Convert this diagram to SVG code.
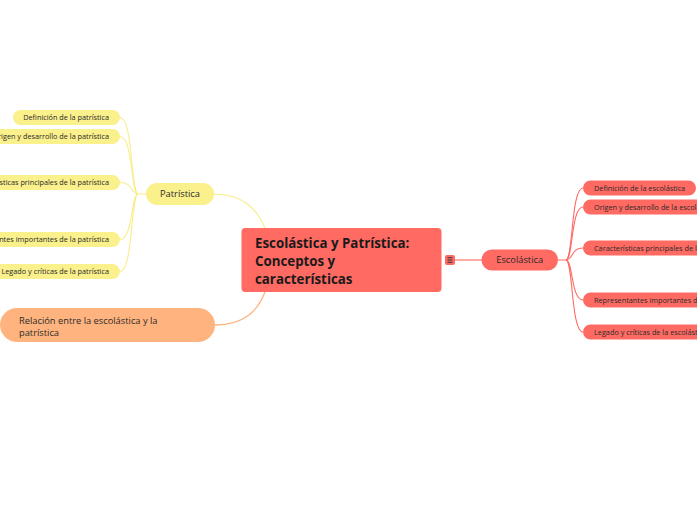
<svg xmlns="http://www.w3.org/2000/svg" width="697" height="520" viewBox="0 0 697 520">
<style>
text{font-family:"Open Sans","Noto Sans","Liberation Sans",sans-serif;fill:#2a2a2a}
.red{fill:#ff6a63}
.yel{fill:#faf08c}
.org{fill:#ffb47f}
.sm{font-size:7.3px}
.md{font-size:9.3px}
.lg{font-size:13.3px;font-weight:bold;fill:#1a1a1a}
.cr{fill:none;stroke:#ff6a63;stroke-width:1.1}
.cy{fill:none;stroke:#f8ee8a;stroke-width:1.1}
.co{fill:none;stroke:#ffb47f;stroke-width:1.3}
</style>
<rect width="697" height="520" fill="#ffffff"/>
<g id="connectors">
<path class="cr" d="M455,260 H482"/>
<path class="cr" d="M558,260 H566 C573,260 571,188 583,188"/>
<path class="cr" d="M566,260 C573,260 571,207 583,207"/>
<path class="cr" d="M566,260 C573,260 571,248 583,248"/>
<path class="cr" d="M566,260 C573,260 571,300 583,300"/>
<path class="cr" d="M566,260 C573,260 571,332 583,332"/>
<path class="cy" d="M214,194 C244,194 257,210 265,228"/>
<path class="cy" d="M146,194 H138 C131,194 133,117.5 120,117.5"/>
<path class="cy" d="M138,194 C131,194 133,136.5 120,136.5"/>
<path class="cy" d="M138,194 C131,194 133,182.5 120,182.5"/>
<path class="cy" d="M138,194 C131,194 133,239.5 120,239.5"/>
<path class="cy" d="M138,194 C131,194 133,271.5 120,271.5"/>
<path class="co" d="M215,325 C245,325 258,310 265,292"/>
</g>
<g id="central">
<rect class="red" x="241.5" y="228" width="200" height="64" rx="4"/>
<text class="lg" x="255" y="248">Escolástica y Patrística:</text>
<text class="lg" x="255" y="266">Conceptos y</text>
<text class="lg" x="255" y="284">características</text>
</g>
<g id="collapse">
<rect class="red" x="445" y="255" width="10" height="10" rx="2"/>
<path d="M447.5,257.7 H452.5 M447.5,260 H452.5 M447.5,262.3 H452.5" stroke="#333" stroke-width="1"/>
</g>
<g id="escolastica">
<rect class="red" x="481.5" y="249.5" width="76.5" height="21" rx="10.5"/>
<text class="md" x="519.7" y="263.3" text-anchor="middle">Escolástica</text>
</g>
<g id="esc-def">
<rect class="red" x="583" y="180.5" width="113" height="15" rx="7.5"/>
<text class="sm" x="594" y="190.6">Definición de la escolástica</text>
</g>
<g id="esc-origen">
<rect class="red" x="583" y="199.5" width="130" height="15" rx="7.5"/>
<text class="sm" x="594" y="209.6">Origen y desarrollo de la escolástica</text>
</g>
<g id="esc-carac">
<rect class="red" x="583" y="240.5" width="160" height="15" rx="7.5"/>
<text class="sm" x="594" y="250.6">Características principales de la escolástica</text>
</g>
<g id="esc-repr">
<rect class="red" x="583" y="292.5" width="160" height="15" rx="7.5"/>
<text class="sm" x="594" y="302.6">Representantes importantes de la escolástica</text>
</g>
<g id="esc-legado">
<rect class="red" x="583" y="324.5" width="140" height="15" rx="7.5"/>
<text class="sm" x="594" y="334.6">Legado y críticas de la escolástica</text>
</g>
<g id="patristica">
<rect class="yel" x="146" y="183" width="68" height="22" rx="11"/>
<text class="md" x="180" y="197.3" text-anchor="middle">Patrística</text>
</g>
<g id="pat-def">
<rect class="yel" x="13" y="110" width="107" height="15" rx="7.5"/>
<text class="sm" x="109" y="120.1" text-anchor="end">Definición de la patrística</text>
</g>
<g id="pat-origen">
<rect class="yel" x="-30" y="129" width="150" height="15" rx="7.5"/>
<text class="sm" x="109" y="139.1" text-anchor="end">Origen y desarrollo de la patrística</text>
</g>
<g id="pat-carac">
<rect class="yel" x="-60" y="175" width="180" height="15" rx="7.5"/>
<text class="sm" x="109" y="185.1" text-anchor="end">Características principales de la patrística</text>
</g>
<g id="pat-repr">
<rect class="yel" x="-60" y="232" width="180" height="15" rx="7.5"/>
<text class="sm" x="109" y="242.1" text-anchor="end">Representantes importantes de la patrística</text>
</g>
<g id="pat-legado">
<rect class="yel" x="-10" y="264" width="130" height="15" rx="7.5"/>
<text class="sm" x="109" y="274.1" text-anchor="end">Legado y críticas de la patrística</text>
</g>
<g id="relacion">
<rect class="org" x="0" y="308" width="215" height="34" rx="17"/>
<text class="md" x="19" y="323.5">Relación entre la escolástica y la</text>
<text class="md" x="19" y="335.5">patrística</text>
</g>
</svg>
